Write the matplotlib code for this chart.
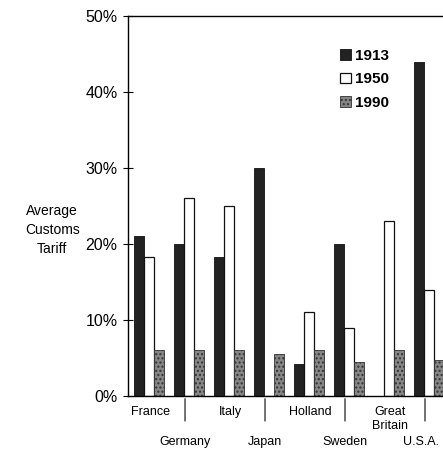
import numpy as np
import matplotlib.pyplot as plt
from matplotlib.ticker import FuncFormatter

countries = ['France', 'Germany', 'Italy', 'Japan', 'Holland', 'Sweden', 'Great\nBritain', 'U.S.A.']
tariff_1913 = [21, 20, 18.3, 30, 4.2, 20, 0, 44]
tariff_1950 = [18.3, 26, 25, 0, 11, 9, 23, 14]
tariff_1990 = [6, 6, 6, 5.5, 6, 4.5, 6, 4.8]
years = ['1913', '1950', '1990']

plt.rcParams['font.family'] = ['Liberation Sans', 'DejaVu Sans']

fig = plt.figure(figsize=(4.43, 4.5), dpi=100)
ax = fig.add_axes([0.289, 0.12, 0.711, 0.8444])

x = np.arange(len(countries))
w = 0.25
ax.bar(x - 0.25, tariff_1913, w, color='#222222', edgecolor='#111111', linewidth=0.6, label=years[0])
ax.bar(x, tariff_1950, w, color='white', edgecolor='#111111', linewidth=0.9, label=years[1])
ax.bar(x + 0.24, tariff_1990, w, color='#868686', edgecolor='#333333', linewidth=0.6,
       hatch='....', label=years[2])
plt.rcParams['hatch.color'] = '#555555'

ax.set_xlim(-0.525, 7.35)
ax.set_ylim(0, 50)
ax.set_yticks(range(0, 51, 10))
ax.yaxis.set_major_formatter(FuncFormatter(lambda v, p: f'{int(v)}%'))
ax.tick_params(axis='y', direction='inout', length=7, width=0.8, labelsize=11.5, pad=4)
ax.set_xticks([])

for s in ['left', 'bottom', 'top']:
    ax.spines[s].set_linewidth(1.0)
ax.spines['right'].set_visible(False)

# alternate two-row category labels, separators above the lower row
for i, name in enumerate(countries):
    if i % 2 == 0:
        ax.annotate(name, (i, 0), xytext=(1, -7), textcoords='offset points',
                    ha='center', va='top', fontsize=9, linespacing=1.25,
                    annotation_clip=False)
    else:
        dx = -6 if i == len(countries) - 1 else -3
        ax.annotate(name, (i, 0), xytext=(dx, -29), textcoords='offset points',
                    ha='center', va='top', fontsize=9, annotation_clip=False)
        ax.annotate('', (i - 0.1, 0), xytext=(i - 0.1, -20), textcoords=('data', 'offset points'),
                    arrowprops=dict(arrowstyle='-', lw=0.9, color='#222222'),
                    annotation_clip=False)

fig.text(0.118, 0.488, 'Average\nCustoms\nTariff', ha='center', va='center',
         fontsize=10, linespacing=1.45)

leg = ax.legend(loc='upper left', bbox_to_anchor=(0.63, 0.95), frameon=False,
                fontsize=11, handlelength=0.7, handleheight=0.7, handletextpad=0.25,
                labelspacing=0.62)
for t in leg.get_texts():
    t.set_fontweight('bold')

fig.savefig('out.png', dpi=100)
